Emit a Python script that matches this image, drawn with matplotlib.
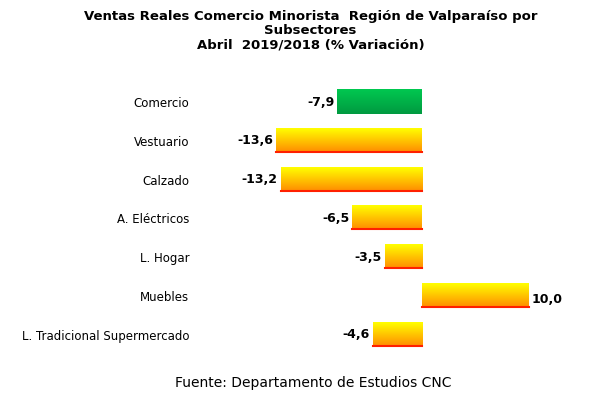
import numpy as np
import matplotlib.pyplot as plt
from matplotlib.colors import LinearSegmentedColormap

categorias = ['Comercio', 'Vestuario', 'Calzado', 'A. Eléctricos', 'L. Hogar',
              'Muebles', 'L. Tradicional Supermercado']
valores = [-7.9, -13.6, -13.2, -6.5, -3.5, 10.0, -4.6]
etiquetas = ['-7,9', '-13,6', '-13,2', '-6,5', '-3,5', '10,0', '-4,6']

W, H = 603, 407
fig = plt.figure(figsize=(W / 100, H / 100), dpi=100)
ax = fig.add_axes([210 / W, 1 - 355 / H, 350 / W, 270 / H])

naranja = LinearSegmentedColormap.from_list('n', ['#ffff00', '#ffc400', '#ff8800'])
verde = LinearSegmentedColormap.from_list('v', ['#00c850', '#009a40'])
grad = np.linspace(0, 1, 64).reshape(-1, 1)
h = 0.62
for i, v in enumerate(valores):
    x0, x1 = min(0, v), max(0, v)
    cmap = verde if i == 0 else naranja
    ax.imshow(grad, cmap=cmap, aspect='auto', origin='upper',
              extent=(x0, x1, i + h / 2, i - h / 2), zorder=2)
    if i != 0:
        ax.plot([x0, x1], [i + h / 2 - 0.03] * 2, color='#ff2000', lw=1.5, zorder=3)
    if v < 0:
        ax.text(v - 0.3, i, etiquetas[i], ha='right', va='center', fontsize=9,
                fontweight='bold')
    else:
        ax.text(v + 0.2, i + 0.1, etiquetas[i], ha='left', va='center', fontsize=9,
                fontweight='bold')

ax.set_xlim((210 - 422) / 10.7, (560 - 422) / 10.7)
ax.set_ylim(6.52, -0.44)
ax.set_yticks(range(len(categorias)))
ax.set_yticklabels(categorias, fontsize=8.5)
ax.tick_params(axis='y', length=0, pad=15)
ax.set_xticks([])
for s in ax.spines.values():
    s.set_visible(False)

fig.text(0.515, 1 - 10 / H, 'Ventas Reales Comercio Minorista  Región de Valparaíso por\nSubsectores\nAbril  2019/2018 (% Variación)',
         ha='center', va='top', fontsize=9.5, fontweight='bold', linespacing=1.15)
fig.text(0.52, 1 - 383 / H, 'Fuente: Departamento de Estudios CNC', ha='center',
         va='center', fontsize=10)

fig.savefig('out.png', dpi=100)
